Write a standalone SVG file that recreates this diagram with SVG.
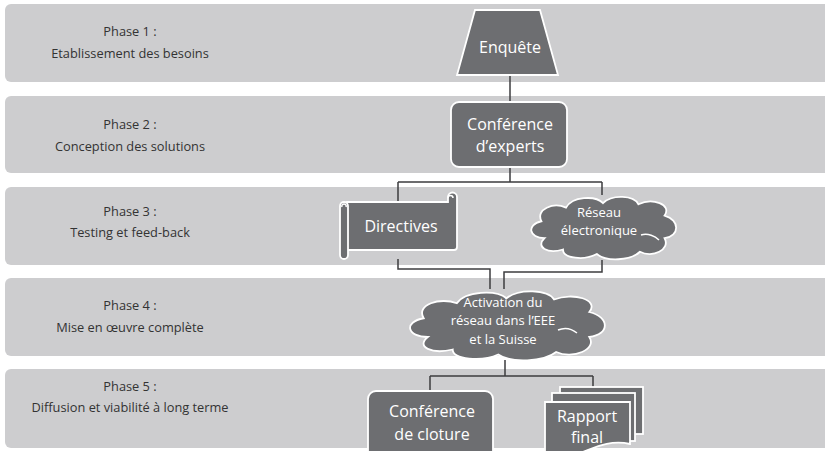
<svg xmlns="http://www.w3.org/2000/svg" width="825" height="451" viewBox="0 0 825 451">
<style>
.band{fill:#cdcdcf}
.ph{font-family:"Open Sans","Liberation Sans",sans-serif;font-size:12.8px;fill:#333;text-anchor:middle}
.node{fill:#6d6e71;stroke:#fff;stroke-width:1.8}
.nt{font-family:"Open Sans","Liberation Sans",sans-serif;font-size:16px;fill:#fff;text-anchor:middle}
.ns{font-family:"Open Sans","Liberation Sans",sans-serif;font-size:13px;fill:#fff;text-anchor:middle}
.con{fill:none;stroke:#3d3d3f;stroke-width:1.5}
.curl{fill:none;stroke:#fff;stroke-width:1.5}
</style>
<rect width="825" height="451" fill="#fff"/>
<g id="bands">
<rect class="band" x="5" y="4" width="840" height="78" rx="6"/>
<rect class="band" x="5" y="96" width="840" height="77" rx="6"/>
<rect class="band" x="5" y="187" width="840" height="78" rx="6"/>
<rect class="band" x="5" y="278" width="840" height="78" rx="6"/>
<rect class="band" x="5" y="369" width="840" height="79" rx="6"/>
</g>
<g id="phase-labels">
<text class="ph" x="130" y="36">Phase 1 :</text>
<text class="ph" x="130" y="58">Etablissement des besoins</text>
<text class="ph" x="130" y="129">Phase 2 :</text>
<text class="ph" x="130" y="151">Conception des solutions</text>
<text class="ph" x="130" y="216">Phase 3 :</text>
<text class="ph" x="130" y="237">Testing et feed-back</text>
<text class="ph" x="130" y="310">Phase 4 :</text>
<text class="ph" x="130" y="332">Mise en œuvre complète</text>
<text class="ph" x="130" y="391">Phase 5 :</text>
<text class="ph" x="130" y="412">Diffusion et viabilité à long terme</text>
</g>
<g id="connectors">
<path class="con" d="M510,75 V102"/>
<path class="con" d="M510,167 V182 M398,182 H602 M398,182 V202 M602,182 V195"/>
<path class="con" d="M398,259 V269 H490 V289"/>
<path class="con" d="M602,260 V272 H504 V289"/>
<path class="con" d="M505,360 V376 M430,376 H593 M430,376 V391 M593,376 V388"/>
</g>
<g id="enquete">
<path class="node" d="M475,10 H540 L558,75 H457 Z"/>
<text class="nt" x="510" y="53" font-size="15">Enquête</text>
</g>
<g id="conference-experts">
<rect class="node" x="451" y="102" width="116" height="65" rx="8"/>
<text class="nt" x="510" y="130">Conférence</text>
<text class="nt" x="510" y="152">d’experts</text>
</g>
<g id="directives">
<path class="node" d="M347,202 H448 V197 A4.5,4.5 0 0 1 457,197 V247 A3,3 0 0 1 454,250 H347 Z"/>
<path class="curl" d="M448,198 A2.5,2.5 0 0 1 453,198"/>
<rect class="node" x="340" y="202" width="8" height="57" rx="4"/>
<path class="curl" d="M342,207 A2.2,2.2 0 1 1 346,207"/>
<text class="nt" x="401" y="232">Directives</text>
</g>
<g id="reseau-electronique">
<path class="node" transform="translate(526,193) scale(1.54,1.13)" vector-effect="non-scaling-stroke" d="M12,40 C2,40 0,28 10,25 C6,14 18,8 26,13 C30,3 45,2 50,9 C56,1 70,2 73,10 C82,4 95,10 90,20 C100,24 100,38 90,40 C94,50 82,58 74,52 C68,60 52,61 46,54 C38,60 24,58 24,50 C14,54 6,48 12,40 Z"/>
<path class="curl" d="M641,235 C648,233 655,236 659,240"/>
<text class="ns" x="599" y="216.5">Réseau</text>
<text class="ns" x="599" y="234.5">électronique</text>
</g>
<g id="activation">
<path class="node" transform="translate(403,287) scale(2.07,1.25)" vector-effect="non-scaling-stroke" d="M12,40 C2,40 0,28 10,25 C6,14 18,8 26,13 C30,3 45,2 50,9 C56,1 70,2 73,10 C82,4 95,10 90,20 C100,24 100,38 90,40 C94,50 82,58 74,52 C68,60 52,61 46,54 C38,60 24,58 24,50 C14,54 6,48 12,40 Z"/>
<path class="curl" d="M558,330 C565,327 572,329 577,333"/>
<text class="ns" x="503" y="306.5" font-size="13.5">Activation du</text>
<text class="ns" x="503" y="325" font-size="13.5">réseau dans l’EEE</text>
<text class="ns" x="503" y="343.5" font-size="13.5">et la Suisse</text>
</g>
<g id="conference-cloture">
<rect class="node" x="368" y="391" width="125" height="75" rx="8"/>
<text class="nt" x="432" y="417">Conférence</text>
<text class="nt" x="432" y="440">de cloture</text>
</g>
<g id="rapport-final">
<rect class="node" x="560" y="387" width="83" height="47"/>
<rect class="node" x="552" y="393" width="83" height="48"/>
<path class="node" d="M545,402 H630 V444 C612,440 598,446 585,451 C575,455 560,458 545,458 Z"/>
<text class="nt" x="587" y="422" font-size="15">Rapport</text>
<text class="nt" x="587" y="442.5" font-size="15">final</text>
</g>
</svg>
